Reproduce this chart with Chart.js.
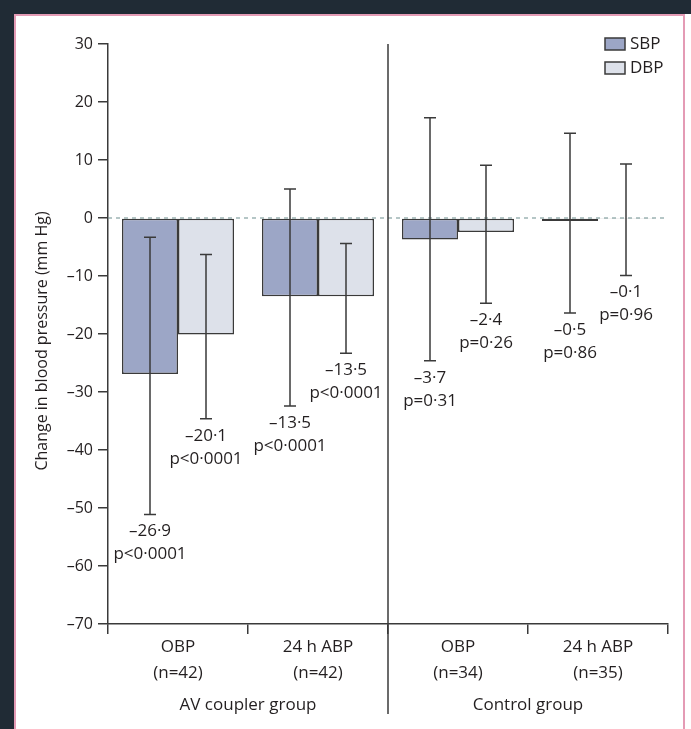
<!DOCTYPE html>
<html>
<head>
<meta charset="utf-8">
<script src="https://cdn.jsdelivr.net/npm/chart.js@4.4.1/dist/chart.umd.min.js"></script>
<style>
html, body { margin: 0; padding: 0; width: 691px; height: 729px; overflow: hidden; background: #202b35; }
#panel { position: absolute; left: 14px; top: 14px; width: 677px; height: 715px; background: #fff; }
#frame { position: absolute; left: 14px; top: 14px; width: 671px; height: 760px; border: 2px solid #e49bb5; box-sizing: border-box; }
#bp { position: absolute; left: 0; top: 0; }
</style>
</head>
<body>
<div id="panel"></div>
<div id="frame"></div>
<canvas id="bp" width="691" height="729"></canvas>
<script>
// values
const categories = [["OBP", "(n=42)"], ["24 h ABP", "(n=42)"], ["OBP", "(n=34)"], ["24 h ABP", "(n=35)"]];
const groups = ["AV coupler group", "Control group"];
const sbp = [-26.9, -13.5, -3.7, -0.5];
const dbp = [-20.1, -13.5, -2.4, -0.1];
const sbpLow = [-51.1, -32.4, -24.6, -16.4];
const sbpHigh = [-3.3, 5.0, 17.3, 14.6];
const dbpLow = [-34.6, -23.3, -14.7, -9.9];
const dbpHigh = [-6.3, -4.4, 9.1, 9.3];
const sbpP = ["p<0·0001", "p<0·0001", "p=0·31", "p=0·86"];
const dbpP = ["p<0·0001", "p<0·0001", "p=0·26", "p=0·96"];
const yTitle = "Change in blood pressure (mm Hg)";

const txt = '#231f20';
const ink = '#3a3a3a';
const FONT = "'Open Sans', sans-serif";

function fmt(v) {
    return (v < 0 ? '–' : '') + Math.abs(v).toFixed(1).replace('.', '·');
}

const extras = {
    id: 'extras',
    afterDatasetsDraw(chart) {
        const ctx = chart.ctx, y = chart.scales.y, area = chart.chartArea;
        ctx.save();
        // dashed zero line
        const y0 = y.getPixelForValue(0);
        ctx.strokeStyle = '#6d8d8e';
        ctx.lineWidth = 1.2;
        ctx.setLineDash([4, 4]);
        ctx.beginPath();
        ctx.moveTo(area.left, y0);
        ctx.lineTo(area.right, y0);
        ctx.stroke();
        ctx.setLineDash([]);

        // error bars + value labels
        const errs = [[sbpLow, sbpHigh, sbpP], [dbpLow, dbpHigh, dbpP]];
        chart.data.datasets.forEach((ds, d) => {
            chart.getDatasetMeta(d).data.forEach((bar, i) => {
                const lo = y.getPixelForValue(errs[d][0][i]);
                const hi = y.getPixelForValue(errs[d][1][i]);
                ctx.strokeStyle = ink;
                ctx.lineWidth = 1.5;
                ctx.beginPath();
                ctx.moveTo(bar.x, hi); ctx.lineTo(bar.x, lo);
                ctx.moveTo(bar.x - 6, hi); ctx.lineTo(bar.x + 6, hi);
                ctx.moveTo(bar.x - 6, lo); ctx.lineTo(bar.x + 6, lo);
                ctx.stroke();
                ctx.fillStyle = txt;
                ctx.font = "17px " + FONT;
                ctx.textAlign = 'center';
                ctx.textBaseline = 'middle';
                ctx.fillText(fmt(ds.data[i]), bar.x, lo + 17);
                ctx.fillText(errs[d][2][i], bar.x, lo + 40);
            });
        });
        ctx.restore();
    },
    afterDraw(chart) {
        const ctx = chart.ctx, x = chart.scales.x, area = chart.chartArea;
        ctx.save();
        // divider between the two groups
        const xd = (x.getPixelForValue(1) + x.getPixelForValue(2)) / 2;
        ctx.strokeStyle = ink;
        ctx.lineWidth = 1.5;
        ctx.beginPath();
        ctx.moveTo(xd, area.top);
        ctx.lineTo(xd, 714);
        ctx.stroke();

        // group labels
        ctx.fillStyle = txt;
        ctx.font = "17px " + FONT;
        ctx.textAlign = 'center';
        ctx.textBaseline = 'middle';
        groups.forEach((g, k) => {
            const cx = (x.getPixelForValue(2 * k) + x.getPixelForValue(2 * k + 1)) / 2;
            ctx.fillText(g, cx, 705);
        });

        // y title
        ctx.save();
        ctx.translate(42, 341);
        ctx.rotate(-Math.PI / 2);
        ctx.font = "16px " + FONT;
        ctx.fillText(yTitle, 0, 0);
        ctx.restore();

        // legend
        chart.data.datasets.forEach((ds, d) => {
            const by = 38 + 24 * d;
            ctx.fillStyle = ds.backgroundColor;
            ctx.fillRect(605, by, 20, 12);
            ctx.strokeStyle = ds.borderColor;
            ctx.lineWidth = 1.5;
            ctx.strokeRect(605, by, 20, 12);
            ctx.fillStyle = txt;
            ctx.font = "17px " + FONT;
            ctx.textAlign = 'left';
            ctx.fillText(ds.label, 630, by + 6);
        });
        ctx.restore();
    }
};

new Chart(document.getElementById('bp').getContext('2d'), {
    type: 'bar',
    data: {
        labels: categories,
        datasets: [
            { label: 'SBP', data: sbp, backgroundColor: '#9ca6c6', borderColor: '#3a3a3a', borderWidth: 1.5, borderSkipped: false },
            { label: 'DBP', data: dbp, backgroundColor: '#dde1ea', borderColor: '#3a3a3a', borderWidth: 1.5, borderSkipped: false }
        ]
    },
    options: {
        responsive: false,
        animation: false,
        devicePixelRatio: 1,
        layout: { padding: { top: 44, right: 23, left: 0, bottom: 0 } },
        datasets: { bar: { categoryPercentage: 0.8, barPercentage: 1.0 } },
        plugins: { legend: { display: false }, tooltip: { enabled: false } },
        scales: {
            x: {
                afterFit(s) { s.height = 105; },
                grid: { offset: true, drawOnChartArea: false, drawTicks: true, tickLength: 10, color: ink, lineWidth: 1.5 },
                border: { display: true, color: ink, width: 1.5 },
                ticks: { color: txt, padding: 0, font: { family: FONT, size: 17, lineHeight: 1.55 }, maxRotation: 0 }
            },
            y: {
                min: -70,
                max: 30,
                afterFit(s) { s.width = 108; },
                grid: { drawOnChartArea: false, drawTicks: true, tickLength: 10, color: ink, lineWidth: 1.5 },
                border: { display: true, color: ink, width: 1.5 },
                ticks: {
                    stepSize: 10,
                    padding: 5,
                    color: txt,
                    font: { family: FONT, size: 16 },
                    callback: v => (v < 0 ? '–' + Math.abs(v) : '' + v)
                }
            }
        }
    },
    plugins: [extras]
});
</script>
</body>
</html>
